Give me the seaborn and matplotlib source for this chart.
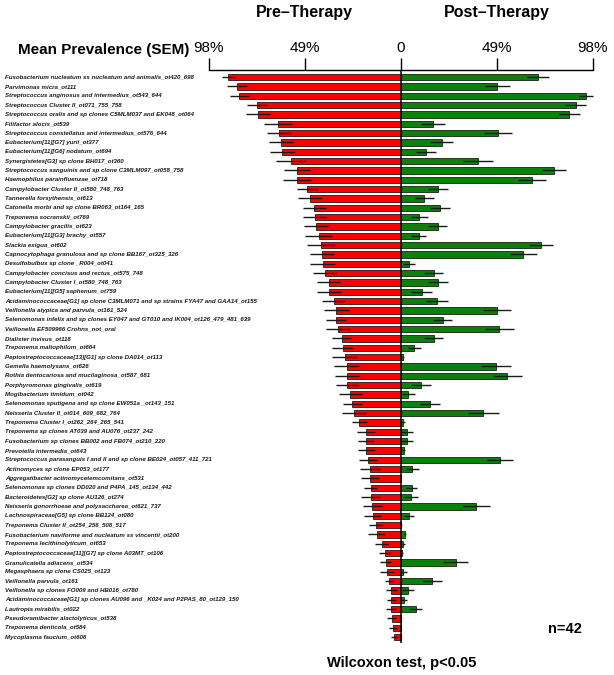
import numpy as np
import pandas as pd
import matplotlib
matplotlib.use('Agg')
import matplotlib.pyplot as plt
import matplotlib.transforms as mtransforms
import seaborn as sns

labels = [
    "Fusobacterium nucleatum ss nucleatum and animalis_ot420_698",
    "Parvimonas micra_ot111",
    "Streptococcus anginosus and intermedius_ot543_644",
    "Streptococcus Cluster II_ot071_755_758",
    "Streptococcus oralis and sp clones C5MLM037 and EK048_ot064",
    "Filifactor alocis_ot539",
    "Streptococcus constellatus and intermedius_ot576_644",
    "Eubacterium[11][G7] yurii_ot377",
    "Eubacterium[11][G6] nodatum_ot694",
    "Synergistetes[G3] sp clone BH017_ot360",
    "Streptococcus sanguinis and sp clone C3MLM097_ot058_758",
    "Haemophilus parainfluenzae_ot718",
    "Campylobacter Cluster II_ot580_748_763",
    "Tannerella forsythensis_ot613",
    "Catonella morbi and sp clone BR063_ot164_165",
    "Treponema socranskii_ot769",
    "Campylobacter gracilis_ot623",
    "Eubacterium[11][G3] brachy_ot557",
    "Slackia exigua_ot602",
    "Capnocytophaga granulosa and sp clone BB167_ot325_326",
    "Desulfobulbus sp clone _R004_ot041",
    "Campylobacter concisus and rectus_ot575_748",
    "Campylobacter Cluster I_ot580_748_763",
    "Eubacterium[11][G5] saphenum_ot759",
    "Acidaminococcaceae[G1] sp clone C3MLM071 and sp strains FYA47 and GAA14_ot155",
    "Veillonella atypica and parvula_ot161_524",
    "Selenomonas infelix and sp clones EY047 and GT010 and IK004_ot126_479_481_639",
    "Veillonella EF509966 Crohns_not_oral",
    "Dialister invisus_ot118",
    "Treponema maltophilum_ot664",
    "Peptostreptococcaceae[13][G1] sp clone DA014_ot113",
    "Gemella haemolysans_ot626",
    "Rothia dentocariosa and mucilaginosa_ot587_681",
    "Porphyromonas gingivalis_ot619",
    "Mogibacterium timidum_ot042",
    "Selenomonas sputigena and sp clone EW051a _ot143_151",
    "Neisseria Cluster II_ot014_609_682_764",
    "Treponema Cluster I_ot262_264_265_541",
    "Treponema sp clones AT039 and AU076_ot237_242",
    "Fusobacterium sp clones BB002 and FB074_ot210_220",
    "Prevotella intermedia_ot643",
    "Streptococcus parasanguis I and II and sp clone BE024_ot057_411_721",
    "Actinomyces sp clone EP053_ot177",
    "Aggregatibacter actinomycetemcomitans_ot531",
    "Selenomonas sp clones DD020 and P4PA_145_ot134_442",
    "Bacteroidetes[G2] sp clone AU126_ot274",
    "Neisseria gonorrhoeae and polysaccharea_ot621_737",
    "Lachnospiraceae[G5] sp clone BB124_ot080",
    "Treponema Cluster II_ot254_256_508_517",
    "Fusobacterium naviforme and nucleatum ss vincentii_ot200",
    "Treponema lecithinolyticum_ot653",
    "Peptostreptococcaceae[11][G7] sp clone A03MT_ot106",
    "Granulicatella adiacens_ot534",
    "Megasphaera sp clone CS025_ot123",
    "Veillonella parvula_ot161",
    "Veillonella sp clones FO009 and HB016_ot780",
    "Acidaminococcaceae[G1] sp clones AU096 and _K024 and P2PAS_80_ot129_150",
    "Lautropia mirabilis_ot022",
    "Pseudoramibacter alactolyticus_ot538",
    "Treponema denticola_ot584",
    "Mycoplasma faucium_ot606",
]

pre = [88.0, 83.4, 82.4, 73.3, 72.8, 62.6, 62.1, 61.1, 60.4, 55.8,
       52.9, 52.9, 47.7, 46.1, 44.1, 43.6, 43.2, 41.9, 40.5, 40.0,
       39.8, 38.8, 36.8, 36.6, 34.2, 32.9, 32.9, 32.2, 30.1, 29.6,
       28.6, 27.6, 27.4, 27.3, 25.7, 24.7, 24.0, 21.1, 17.7, 17.7,
       17.6, 16.7, 15.7, 15.5, 15.3, 15.3, 14.6, 14.3, 12.8, 12.3,
       9.5, 8.0, 7.7, 7.1, 5.8, 4.8, 4.8, 4.8, 4.6, 3.9, 3.3]
pre_sem = [3.4, 5.1, 4.8, 5.3, 6.1, 7.1, 6.0, 6.1, 6.3, 7.7,
           6.5, 7.1, 5.4, 6.1, 5.8, 6.1, 6.3, 6.8, 7.1, 6.1,
           6.5, 5.8, 5.8, 6.0, 5.8, 6.5, 5.1, 6.1, 4.8, 5.3,
           6.3, 6.5, 6.3, 5.8, 5.8, 4.8, 6.1, 3.9, 4.4, 3.9,
           4.4, 4.4, 5.3, 4.6, 3.4, 4.8, 4.8, 4.3, 3.6, 4.3,
           3.6, 3.2, 2.7, 3.7, 2.4, 2.9, 2.2, 2.6, 2.2, 1.9, 1.5]
post = [69.9, 49.3, 94.6, 89.3, 86.1, 16.5, 49.7, 20.9, 12.8, 39.6,
        78.3, 67.0, 18.9, 12.1, 20.1, 9.5, 18.9, 9.2, 71.5, 62.6,
        4.1, 16.8, 18.9, 10.7, 18.5, 49.0, 21.4, 50.3, 16.8, 6.9,
        1.0, 48.6, 54.4, 10.2, 3.9, 14.8, 42.2, 1.3, 3.1, 3.1,
        1.5, 50.7, 5.9, 0.0, 5.6, 5.3, 38.6, 4.2, 0.4, 2.0,
        1.3, 0.7, 28.1, 1.3, 16.1, 3.7, 1.7, 7.7, 0.0, 0.0, 0.0]
post_sem = [5.6, 6.5, 3.4, 5.3, 5.4, 6.0, 7.1, 5.8, 5.1, 7.7,
            6.3, 7.0, 5.1, 4.9, 5.1, 4.3, 4.8, 3.9, 6.1, 6.8,
            3.1, 4.9, 5.1, 5.3, 5.8, 7.1, 4.8, 7.3, 4.8, 3.4,
            0.5, 7.5, 7.5, 5.1, 3.2, 5.1, 7.8, 0.7, 3.1, 3.1,
            0.7, 6.8, 3.4, 0.0, 2.7, 3.6, 6.8, 2.6, 0.3, 0.5,
            0.7, 0.5, 6.3, 1.7, 4.9, 3.2, 1.7, 3.4, 0.0, 0.0, 0.0]

tick_vals = [-98, -49, 0, 49, 98]
tick_labels = ["98%", "49%", "0", "49%", "98%"]

sns.set_style('white')
plt.rcParams['font.family'] = ['Liberation Sans', 'DejaVu Sans']
plt.rcParams['text.color'] = 'black'

W, H = 614, 675
fig = plt.figure(figsize=(W / 100, H / 100), dpi=100)
ax = fig.add_axes([204.8 / W, 1 - 642.7 / H, 391.8 / W, 573.0 / H])

df = pd.DataFrame({'taxon': labels, 'pre': pre, 'post': post,
                   'pre_sem': pre_sem, 'post_sem': post_sem})
df['pre_neg'] = -df['pre']

sns.barplot(data=df, x='pre_neg', y='taxon', order=labels, color='#ff0000',
            saturation=1, width=0.7, edgecolor='black', linewidth=0.5,
            errorbar=None, ax=ax, zorder=2)
sns.barplot(data=df, x='post', y='taxon', order=labels, color='#0b800b',
            saturation=1, width=0.7, edgecolor='black', linewidth=0.5,
            errorbar=None, ax=ax, zorder=2)

ypos = np.arange(len(labels))
ax.errorbar(df['pre_neg'], ypos, xerr=df['pre_sem'], fmt='none',
            ecolor='#1a1a1a', elinewidth=1.0, capsize=0, zorder=3)
ax.errorbar(df['post'], ypos, xerr=df['post_sem'], fmt='none',
            ecolor='#1a1a1a', elinewidth=1.0, capsize=0, zorder=3)

ax.axvline(0, color='black', lw=1.1, zorder=4)

ax.set_xlim(-100, 100)
ax.set_ylim(60.6, -0.8)
ax.set_yticks([])
ax.set_xlabel('')
ax.set_ylabel('')

for s in ['left', 'right', 'bottom']:
    ax.spines[s].set_visible(False)
ax.spines['top'].set_visible(True)
ax.spines['top'].set_bounds(-98, 98)
ax.spines['top'].set_linewidth(1.0)
ax.spines['top'].set_color('black')

ax.xaxis.tick_top()
ax.set_xticks(tick_vals)
ax.set_xticklabels(tick_labels)
ax.tick_params(axis='x', which='major', top=True, bottom=False,
               direction='out', length=8.5, width=1.0, color='black',
               pad=2, labelsize=11, labelcolor='black')

trans = mtransforms.blended_transform_factory(fig.transFigure, ax.transData)
for i, lab in enumerate(labels):
    ax.text(5 / W, i, lab, transform=trans, ha='left', va='center',
            fontsize=4.4, fontweight='bold', fontstyle='italic',
            color='#1a1a1a', clip_on=False)

fig.text(304 / W, 1 - 13 / H, 'Pre\u2013Therapy', ha='center', va='center',
         fontsize=11.5, fontweight='bold', color='black')
fig.text(497 / W, 1 - 13 / H, 'Post\u2013Therapy', ha='center', va='center',
         fontsize=11.5, fontweight='bold', color='black')
fig.text(104 / W, 1 - 50 / H, 'Mean Prevalence (SEM)', ha='center', va='center',
         fontsize=11, fontweight='bold', color='black')
fig.text(565 / W, 1 - 629 / H, 'n=42', ha='center', va='center', fontsize=10.5,
         fontweight='bold', color='black')
fig.text(402 / W, 1 - 663 / H, 'Wilcoxon test, p<0.05', ha='center', va='center',
         fontsize=10.5, fontweight='bold', color='black')

fig.savefig('out.png', dpi=100)
